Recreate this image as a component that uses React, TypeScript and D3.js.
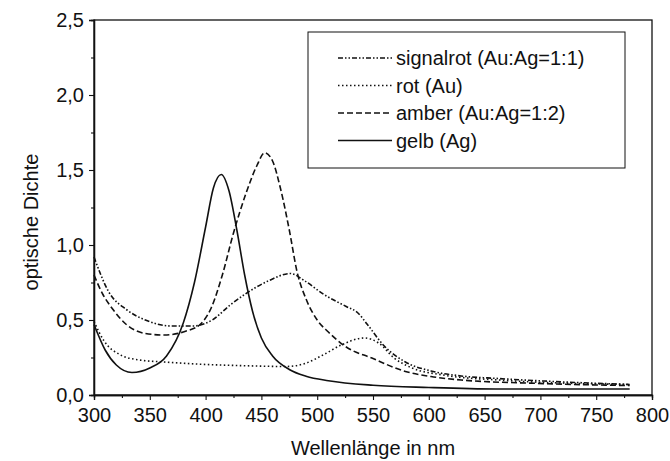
import React, { useEffect, useRef } from "react";
import * as d3 from "d3";

const xTicks = [300, 350, 400, 450, 500, 550, 600, 650, 700, 750, 800];
const yTicks = [0, 0.5, 1.0, 1.5, 2.0, 2.5];

const gelbNm = [300, 310, 320, 334, 350, 365, 380, 390, 400, 407, 414, 421, 428, 435, 442, 450, 460, 475, 490, 510, 550, 600, 660, 720, 780];
const gelbOD = [0.47, 0.3, 0.2, 0.15, 0.18, 0.26, 0.48, 0.75, 1.12, 1.38, 1.47, 1.36, 1.1, 0.8, 0.56, 0.38, 0.26, 0.17, 0.125, 0.095, 0.065, 0.05, 0.04, 0.04, 0.04];

const amberNm = [300, 308, 316, 329, 346, 363, 382, 395, 405, 415, 425, 436, 446, 453, 460, 467, 475, 482, 490, 500, 510, 526, 549, 579, 602, 629, 695, 780];
const amberOD = [0.8, 0.67, 0.58, 0.47, 0.41, 0.4, 0.425, 0.47, 0.58, 0.8, 1.08, 1.34, 1.53, 1.615, 1.56, 1.38, 1.1, 0.82, 0.64, 0.5, 0.42, 0.32, 0.246, 0.157, 0.123, 0.1, 0.078, 0.063];

const signalrotNm = [300, 313, 329, 346, 369, 389, 406, 422, 439, 456, 476, 489, 506, 526, 536, 545, 559, 579, 602, 629, 662, 712, 780];
const signalrotOD = [0.92, 0.69, 0.57, 0.5, 0.46, 0.46, 0.5, 0.6, 0.69, 0.76, 0.81, 0.76, 0.67, 0.59, 0.55, 0.47, 0.335, 0.22, 0.16, 0.127, 0.11, 0.09, 0.07];

const rotNm = [300, 309, 323, 339, 363, 396, 436, 472, 489, 506, 522, 542, 555, 569, 585, 612, 662, 780];
const rotOD = [0.49, 0.36, 0.27, 0.235, 0.22, 0.205, 0.195, 0.19, 0.21, 0.27, 0.335, 0.38, 0.347, 0.246, 0.18, 0.134, 0.1, 0.07];

const seriesNames = ["signalrot (Au:Ag=1:1)", "rot (Au)", "amber (Au:Ag=1:2)", "gelb (Ag)"];
const seriesX = [signalrotNm, rotNm, amberNm, gelbNm];
const seriesY = [signalrotOD, rotOD, amberOD, gelbOD];
const seriesDash = ["5,2,1.5,2,1.5,2", "1.5,2.5", "6,3", null];

export default function App() {
  const ref = useRef<SVGSVGElement>(null);
  useEffect(() => {
    const svg = d3.select(ref.current);
    svg.selectAll("*").remove();
    const W = 670, H = 461;
    const m = { left: 94, right: 18, top: 20, bottom: 66 };
    const x = d3.scaleLinear().domain([300, 800]).range([m.left, W - m.right]);
    const y = d3.scaleLinear().domain([0, 2.5]).range([H - m.bottom, m.top]);
    const font = "'Liberation Sans', Arial, sans-serif";
    const fs = 20;
    const fmt = (v: number) => d3.format(".1f")(v).replace(".", ",");

    // frame
    svg.append("rect")
      .attr("x", x(300)).attr("y", y(2.5))
      .attr("width", x(800) - x(300)).attr("height", y(0) - y(2.5))
      .attr("fill", "none").attr("stroke", "#111").attr("stroke-width", 1.3);

    const xMinor = d3.range(325, 800, 50);
    const yMinor = d3.range(0.25, 2.5, 0.5);
    const gx = svg.append("g").attr("transform", `translate(0,${y(0)})`)
      .call(d3.axisBottom(x).tickValues(xTicks).tickSize(5).tickPadding(8).tickFormat((d: any) => String(d)));
    gx.append("g").call(d3.axisBottom(x).tickValues(xMinor).tickSize(3).tickFormat(() => ""));
    const gy = svg.append("g").attr("transform", `translate(${x(300)},0)`)
      .call(d3.axisLeft(y).tickValues(yTicks).tickSize(5).tickPadding(5).tickFormat((d: any) => fmt(d)));
    gy.append("g").call(d3.axisLeft(y).tickValues(yMinor).tickSize(3).tickFormat(() => ""));
    svg.selectAll(".domain").attr("stroke", "#111").attr("stroke-width", 1.3);
    svg.selectAll(".tick line").attr("stroke", "#111").attr("stroke-width", 1.1);
    svg.selectAll(".tick text").attr("font-family", font).attr("font-size", fs).attr("fill", "#111");

    // titles
    svg.append("text").attr("x", (x(300) + x(800)) / 2).attr("y", 455)
      .attr("text-anchor", "middle").attr("font-family", font).attr("font-size", fs).attr("fill", "#111")
      .text("Wellenlänge in nm");
    svg.append("text").attr("transform", `translate(38,222) rotate(-90)`)
      .attr("text-anchor", "middle").attr("font-family", font).attr("font-size", fs).attr("fill", "#111")
      .text("optische Dichte");

    // lines
    const line = d3.line<[number, number]>().x(d => x(d[0])).y(d => y(d[1])).curve(d3.curveMonotoneX);
    seriesNames.forEach((name, i) => {
      const pts = seriesX[i].map((v, j) => [v, seriesY[i][j]] as [number, number]);
      svg.append("path").datum(pts).attr("d", line)
        .attr("fill", "none").attr("stroke", "#111").attr("stroke-width", 1.6)
        .attr("stroke-dasharray", seriesDash[i] ?? null);
    });

    // legend
    const lx = 308, ly = 32, lw = 317, lh = 136;
    svg.append("rect").attr("x", lx).attr("y", ly).attr("width", lw).attr("height", lh)
      .attr("fill", "white").attr("stroke", "#111").attr("stroke-width", 1);
    seriesNames.forEach((name, i) => {
      const yy = ly + 26 + i * 27.5;
      svg.append("line").attr("x1", lx + 30).attr("x2", lx + 84).attr("y1", yy).attr("y2", yy)
        .attr("stroke", "#111").attr("stroke-width", 1.6).attr("stroke-dasharray", seriesDash[i] ?? null);
      svg.append("text").attr("x", lx + 88).attr("y", yy + 7).attr("font-family", font)
        .attr("font-size", fs).attr("fill", "#111").text(name);
    });
  }, []);
  return <svg ref={ref} width={670} height={461} style={{ position: "absolute", left: 0, top: 0, background: "white" }} />;
}
